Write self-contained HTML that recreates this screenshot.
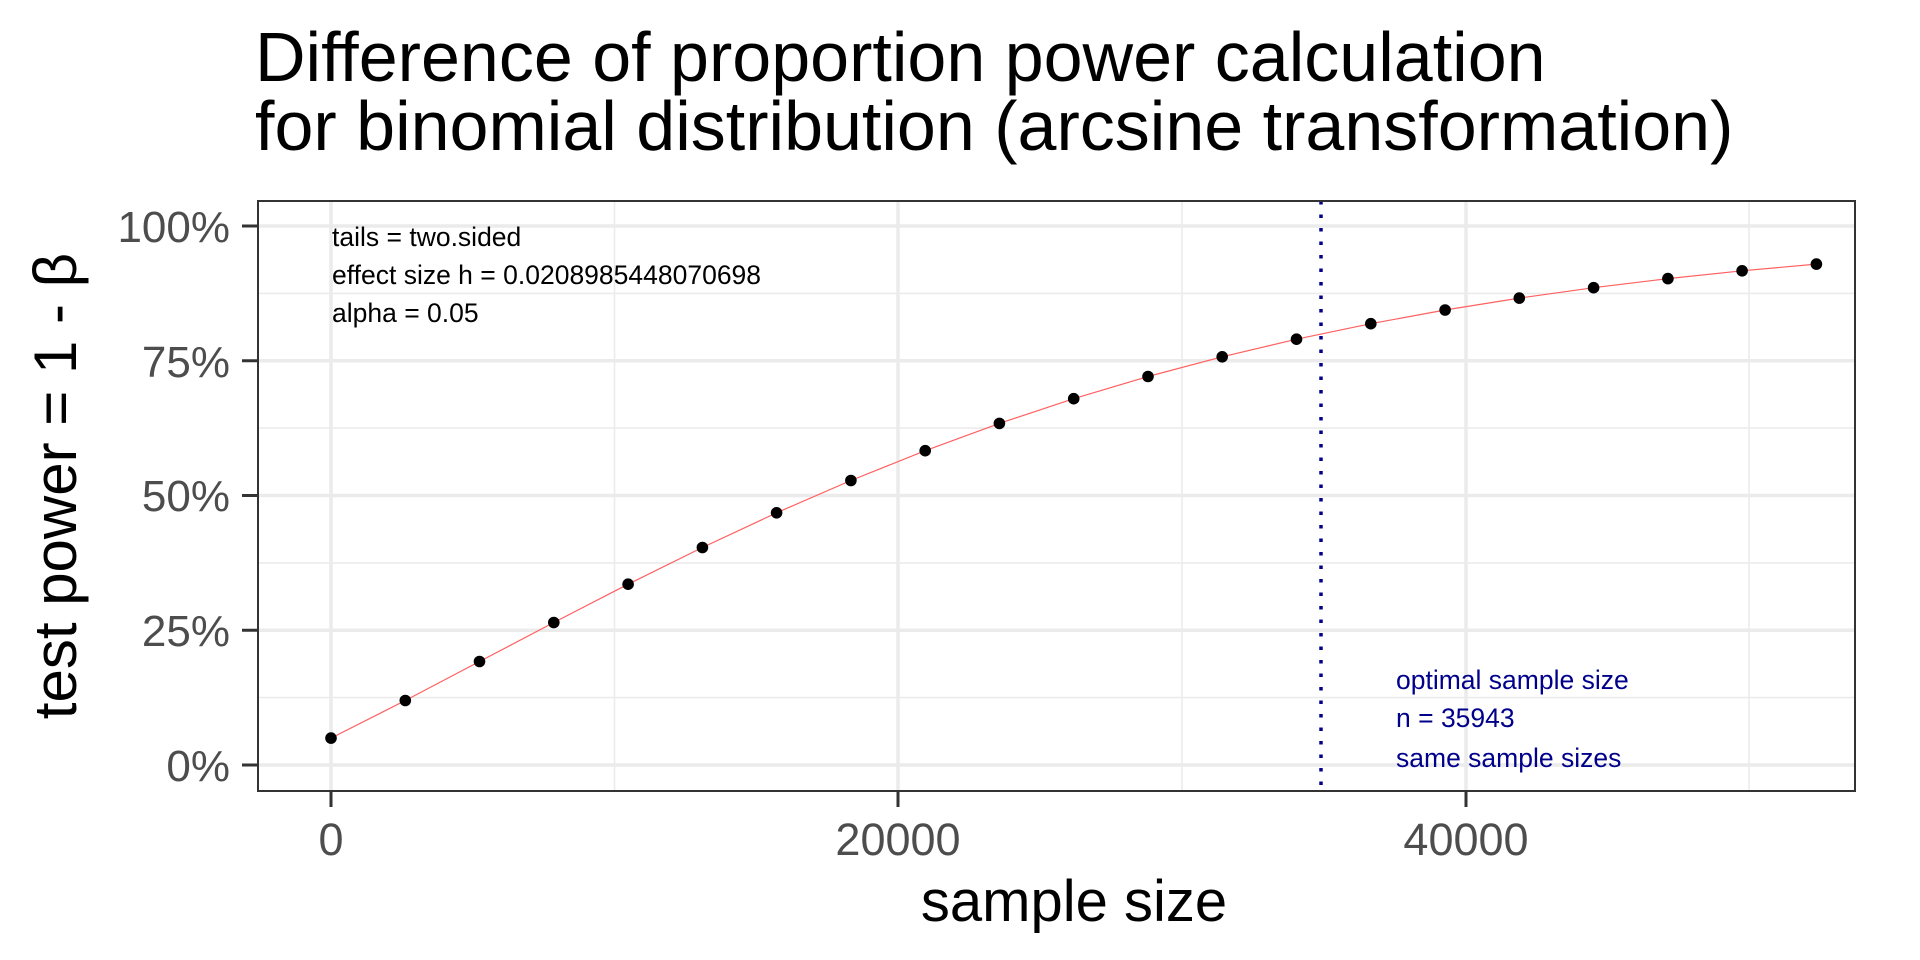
<!DOCTYPE html>
<html><head><meta charset="utf-8"><style>html,body{margin:0;padding:0;background:#fff}svg{display:block}</style></head>
<body>
<svg width="1920" height="960" viewBox="0 0 1920 960" xmlns="http://www.w3.org/2000/svg" font-family="Liberation Sans, Arial, sans-serif">
<rect width="1920" height="960" fill="#fff"/>
<text x="255" y="81" font-size="70" fill="#000">Difference of proportion power calculation</text>
<text x="255" y="150" font-size="70" fill="#000">for binomial distribution (arcsine transformation)</text>
<g stroke="#EBEBEB" stroke-width="1.6">
<line x1="258" x2="1855" y1="697.6" y2="697.6"/><line x1="258" x2="1855" y1="562.9" y2="562.9"/>
<line x1="258" x2="1855" y1="428.1" y2="428.1"/><line x1="258" x2="1855" y1="293.4" y2="293.4"/>
<line x1="614.5" x2="614.5" y1="201" y2="791"/><line x1="1182" x2="1182" y1="201" y2="791"/><line x1="1749" x2="1749" y1="201" y2="791"/>
</g>
<g stroke="#EBEBEB" stroke-width="3.5">
<line x1="258" x2="1855" y1="765" y2="765"/><line x1="258" x2="1855" y1="630.25" y2="630.25"/>
<line x1="258" x2="1855" y1="495.5" y2="495.5"/><line x1="258" x2="1855" y1="360.75" y2="360.75"/>
<line x1="258" x2="1855" y1="226" y2="226"/>
<line x1="331" x2="331" y1="201" y2="791"/><line x1="898" x2="898" y1="201" y2="791"/><line x1="1466" x2="1466" y1="201" y2="791"/>
</g>
<polyline fill="none" stroke="#FF6060" stroke-width="1.2" points="331,738.1 405.3,700.5 479.5,661.5 553.8,622.5 628.1,584.2 702.4,547.5 776.6,512.8 850.9,480.5 925.2,450.7 999.4,423.4 1073.7,398.7 1148,376.5 1222.2,356.8 1296.5,339.2 1370.8,323.7 1445.1,310 1519.3,298.1 1593.6,287.7 1667.9,278.6 1742.1,270.8 1816.4,264.1"/>
<g fill="#000">
<circle cx="331" cy="738.1" r="5.8"/><circle cx="405.3" cy="700.5" r="5.8"/><circle cx="479.5" cy="661.5" r="5.8"/><circle cx="553.8" cy="622.5" r="5.8"/><circle cx="628.1" cy="584.2" r="5.8"/><circle cx="702.4" cy="547.5" r="5.8"/><circle cx="776.6" cy="512.8" r="5.8"/><circle cx="850.9" cy="480.5" r="5.8"/><circle cx="925.2" cy="450.7" r="5.8"/><circle cx="999.4" cy="423.4" r="5.8"/><circle cx="1073.7" cy="398.7" r="5.8"/><circle cx="1148" cy="376.5" r="5.8"/><circle cx="1222.2" cy="356.8" r="5.8"/><circle cx="1296.5" cy="339.2" r="5.8"/><circle cx="1370.8" cy="323.7" r="5.8"/><circle cx="1445.1" cy="310" r="5.8"/><circle cx="1519.3" cy="298.1" r="5.8"/><circle cx="1593.6" cy="287.7" r="5.8"/><circle cx="1667.9" cy="278.6" r="5.8"/><circle cx="1742.1" cy="270.8" r="5.8"/><circle cx="1816.4" cy="264.1" r="5.8"/>
</g>
<line x1="1321" x2="1321" y1="201" y2="791" stroke="#00008B" stroke-width="3.5" stroke-dasharray="3.5,10"/>
<g font-size="26.5" fill="#000">
<text x="332" y="246">tails = two.sided</text>
<text x="332" y="284">effect size h = 0.0208985448070698</text>
<text x="332" y="322">alpha = 0.05</text>
</g>
<g font-size="26.5" fill="#00008B">
<text x="1396" y="689">optimal sample size</text>
<text x="1396" y="727">n = 35943</text>
<text x="1396" y="767">same sample sizes</text>
</g>
<rect x="258" y="201" width="1597" height="590" fill="none" stroke="#333" stroke-width="2"/>
<g stroke="#333" stroke-width="3">
<line x1="242" x2="258" y1="765" y2="765"/><line x1="242" x2="258" y1="630.25" y2="630.25"/><line x1="242" x2="258" y1="495.5" y2="495.5"/><line x1="242" x2="258" y1="360.75" y2="360.75"/><line x1="242" x2="258" y1="226" y2="226"/>
<line x1="331" x2="331" y1="791" y2="807"/><line x1="898" x2="898" y1="791" y2="807"/><line x1="1466" x2="1466" y1="791" y2="807"/>
</g>
<g font-size="44" fill="#4D4D4D" text-anchor="end">
<text x="230" y="781">0%</text><text x="230" y="646">25%</text><text x="230" y="511">50%</text><text x="230" y="377">75%</text><text x="230" y="242">100%</text>
</g>
<g font-size="45" fill="#4D4D4D" text-anchor="middle">
<text x="331" y="855">0</text><text x="898" y="855">20000</text><text x="1466" y="855">40000</text>
</g>
<text x="1074" y="921" font-size="58" text-anchor="middle" fill="#000">sample size</text>
<text transform="translate(76,486) rotate(-90)" font-size="60" text-anchor="middle" fill="#000">test power = 1 - β</text>
</svg>
</body></html>
